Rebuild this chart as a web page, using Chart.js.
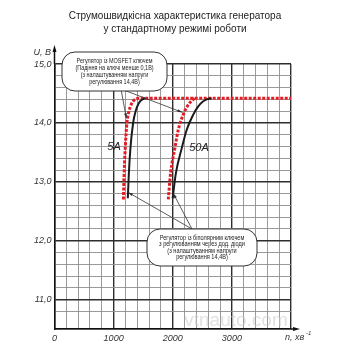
<!DOCTYPE html>
<html>
<head>
<meta charset="utf-8">
<script src="https://cdn.jsdelivr.net/npm/chart.js@4.4.0/dist/chart.umd.min.js"></script>
<style>
  html, body { margin:0; padding:0; background:#fff; }
  #wrap { width:350px; height:350px; position:relative; }
</style>
</head>
<body>
<div id="wrap"><canvas id="c" width="350" height="350"></canvas></div>
<script>
// curves: rpm (n) and voltage (U)
const rpmRed5   = [1165, 1180, 1198, 1225, 1260, 1300, 1350, 1430, 4000];
const uRed5     = [12.7, 13.2, 13.6, 14.0, 14.2, 14.32, 14.39, 14.42, 14.42];
const rpmBlack5 = [1240, 1258, 1285, 1330, 1378, 1423, 1460, 1535];
const uBlack5   = [12.72, 13.15, 13.58, 14.0, 14.22, 14.33, 14.38, 14.42];
const rpmRed50  = [1924, 1964, 2037, 2093, 2177, 2245, 2303, 2375];
const uRed50    = [12.7, 13.15, 13.58, 13.88, 14.14, 14.28, 14.36, 14.42];
const rpmBlack50 = [1998, 2054, 2155, 2235, 2347, 2431, 2505, 2573, 2658];
const uBlack50   = [12.72, 13.15, 13.58, 13.88, 14.14, 14.28, 14.36, 14.40, 14.42];

const xTickLabels = [0, 1000, 2000, 3000];
const yTickLabels = [11, 12, 13, 14, 15];

const titleLines = ['Струмошвидкісна характеристика генератора', 'у стандартному режимі роботи'];
const box1Lines = ['Регулятор із MOSFET ключем', '(Падіння на ключі менше 0,1В)', '(з налаштуванням напруги', 'регулювання 14,4В)'];
const box2Lines = ['Регулятор із біполярним ключем', 'з регулюванням через дод. діоди', '(з налаштуванням напруги', 'регулювання 14,4В)'];

const pts = (xs, ys) => xs.map((v, i) => ({ x: v, y: ys[i] }));
const RED = '#e31d25', BLACK = '#1b1b1b';
const FONT = '"Liberation Sans", Arial, sans-serif';

function isMajorX(v) { return Math.abs(v % 1000) < 1e-6; }
function isMajorY(v) { return Math.abs(v - Math.round(v)) < 1e-6; }

// narrow text like the original condensed face
function narrowText(ctx, t, x, y, k) {
  ctx.fillText(t, x, y, ctx.measureText(t).width * k);
}

function roundBox(ctx, x, y, w, h, r) {
  ctx.beginPath();
  ctx.moveTo(x + r, y);
  ctx.lineTo(x + w - r, y); ctx.arcTo(x + w, y, x + w, y + r, r);
  ctx.lineTo(x + w, y + h - r); ctx.arcTo(x + w, y + h, x + w - r, y + h, r);
  ctx.lineTo(x + r, y + h); ctx.arcTo(x, y + h, x, y + h - r, r);
  ctx.lineTo(x, y + r); ctx.arcTo(x, y, x + r, y, r);
  ctx.closePath();
  ctx.fillStyle = '#fff'; ctx.fill();
  ctx.strokeStyle = '#333'; ctx.lineWidth = 1; ctx.stroke();
}

function pointer(ctx, x0, y0, x1, y1, head) {
  ctx.strokeStyle = '#333'; ctx.lineWidth = 0.8;
  ctx.beginPath(); ctx.moveTo(x0, y0); ctx.lineTo(x1, y1); ctx.stroke();
  const a = Math.atan2(y1 - y0, x1 - x0);
  ctx.fillStyle = '#333';
  ctx.beginPath();
  ctx.moveTo(x1, y1);
  ctx.lineTo(x1 - head * Math.cos(a - 0.3), y1 - head * Math.sin(a - 0.3));
  ctx.lineTo(x1 - head * Math.cos(a + 0.3), y1 - head * Math.sin(a + 0.3));
  ctx.closePath(); ctx.fill();
}

const decor = {
  id: 'decor',
  afterDraw(chart) {
    const { ctx, scales: { x, y }, chartArea: ca } = chart;
    ctx.save();
    // title
    ctx.fillStyle = '#222'; ctx.textAlign = 'center'; ctx.textBaseline = 'middle';
    ctx.font = '11px ' + FONT;
    narrowText(ctx, titleLines[0], 175, 16, 0.91);
    narrowText(ctx, titleLines[1], 175, 29, 0.91);

    // watermark
    ctx.font = '19px ' + FONT; ctx.fillStyle = 'rgba(200,200,200,0.55)';
    ctx.fillText('vtnauto.com', 236, 321);

    // axis arrows
    ctx.strokeStyle = '#111'; ctx.lineWidth = 1.5; ctx.fillStyle = '#111';
    ctx.beginPath(); ctx.moveTo(ca.left, ca.top); ctx.lineTo(ca.left, 49); ctx.stroke();
    ctx.beginPath(); ctx.moveTo(ca.left, 45); ctx.lineTo(ca.left - 2, 52); ctx.lineTo(ca.left + 2, 52); ctx.closePath(); ctx.fill();
    ctx.beginPath(); ctx.moveTo(ca.right, ca.bottom); ctx.lineTo(296, ca.bottom); ctx.stroke();
    ctx.beginPath(); ctx.moveTo(300, ca.bottom); ctx.lineTo(293, ca.bottom - 2); ctx.lineTo(293, ca.bottom + 2); ctx.closePath(); ctx.fill();

    // axis titles
    ctx.fillStyle = '#333'; ctx.font = 'italic 9px ' + FONT;
    ctx.textAlign = 'right'; ctx.fillText('U, B', 51, 52);
    ctx.textAlign = 'left'; ctx.fillText('n, хв', 285, 337);
    ctx.font = 'italic 6px ' + FONT; ctx.fillText('-1', 306, 333);

    // curve labels
    ctx.font = 'italic 11px ' + FONT; ctx.fillStyle = '#222';
    ctx.textAlign = 'center';
    ctx.fillText('5A', 114, 147);
    ctx.fillText('50A', 199, 148);

    // pointers from box 1 to the red curves
    pointer(ctx, 121, 89, x.getPixelForValue(1215), y.getPixelForValue(14.08), 5);
    pointer(ctx, 121, 89, x.getPixelForValue(2160), y.getPixelForValue(14.18), 5);
    // pointers from box 2 to the black curves
    pointer(ctx, 192, 229, x.getPixelForValue(1245), y.getPixelForValue(12.82), 5);
    pointer(ctx, 192, 229, x.getPixelForValue(2010), y.getPixelForValue(12.8), 5);

    // boxes
    ctx.textAlign = 'center'; ctx.textBaseline = 'middle';
    roundBox(ctx, 62, 52, 105, 39, 13);
    ctx.fillStyle = '#222'; ctx.font = '7px ' + FONT;
    box1Lines.forEach((t, i) => narrowText(ctx, t, 114.5, 61.5 + i * 6.8, 0.78));
    roundBox(ctx, 147, 229, 110, 37, 13);
    ctx.fillStyle = '#222'; ctx.font = '7px ' + FONT;
    box2Lines.forEach((t, i) => narrowText(ctx, t, 202, 238 + i * 6.5, 0.8));
    ctx.restore();
  }
};

new Chart(document.getElementById('c'), {
  type: 'line',
  data: {
    datasets: [
      { data: pts(rpmBlack5, uBlack5), borderColor: BLACK, borderWidth: 2, pointRadius: 0, cubicInterpolationMode: 'monotone' },
      { data: pts(rpmBlack50, uBlack50), borderColor: BLACK, borderWidth: 2, pointRadius: 0, cubicInterpolationMode: 'monotone' },
      { data: pts(rpmRed5, uRed5), borderColor: RED, borderWidth: 3, borderDash: [3, 1.5], pointRadius: 0, cubicInterpolationMode: 'monotone' },
      { data: pts(rpmRed50, uRed50), borderColor: RED, borderWidth: 3, borderDash: [3, 1.5], pointRadius: 0, cubicInterpolationMode: 'monotone' }
    ]
  },
  options: {
    responsive: false, animation: false,
    layout: { padding: { top: 64, right: 59, left: 0, bottom: 0 } },
    plugins: { legend: { display: false }, tooltip: { enabled: false }, title: { display: false } },
    scales: {
      x: {
        type: 'linear', min: 0, max: 4000,
        afterFit: s => { s.height = 21; },
        border: { display: true, color: '#111', width: 1.5 },
        grid: {
          drawTicks: false,
          color: c => isMajorX(c.tick.value) ? '#2e2e2e' : '#8e8e8e',
          lineWidth: c => isMajorX(c.tick.value) ? 1.4 : 0.9
        },
        ticks: {
          stepSize: 200, autoSkip: false, maxRotation: 0, padding: 4, color: '#333',
          font: { family: FONT, size: 9, style: 'italic' },
          callback: v => xTickLabels.includes(v) ? String(v) : ''
        }
      },
      y: {
        type: 'linear', min: 10.5, max: 15,
        afterFit: s => { s.width = 54.5; },
        border: { display: true, color: '#111', width: 1.5 },
        grid: {
          drawTicks: false,
          color: c => isMajorY(c.tick.value) ? '#2e2e2e' : '#8e8e8e',
          lineWidth: c => isMajorY(c.tick.value) ? 1.4 : 0.9
        },
        ticks: {
          stepSize: 0.2, autoSkip: false, padding: 3, color: '#333',
          font: { family: FONT, size: 9, style: 'italic' },
          callback: v => (isMajorY(v) && yTickLabels.includes(Math.round(v))) ? Math.round(v).toFixed(1).replace('.', ',') : ''
        }
      }
    }
  },
  plugins: [decor]
});
</script>
</body>
</html>
